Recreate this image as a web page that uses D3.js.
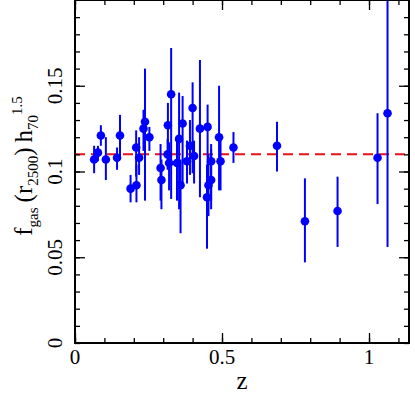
<!DOCTYPE html>
<html>
<head>
<meta charset="utf-8">
<script src="https://cdn.jsdelivr.net/npm/d3@7"></script>
<style>
body { margin: 0; background: #fff; }
text { font-family: "Liberation Serif", "DejaVu Serif", serif; fill: #000; }
</style>
</head>
<body>
<div id="chart"></div>
<script>
// cluster redshifts and gas fractions
var redshift = [0.065, 0.078, 0.088, 0.105, 0.143, 0.153, 0.189, 0.209, 0.208, 0.218,
	0.233, 0.238, 0.253, 0.291, 0.294, 0.315, 0.316, 0.320, 0.327, 0.347,
	0.354, 0.359, 0.366, 0.381, 0.391, 0.400, 0.405, 0.425, 0.451, 0.449,
	0.454, 0.463, 0.463, 0.490, 0.495, 0.539, 0.687, 0.782, 0.893, 1.029, 1.063];
var fgas = [0.107, 0.111, 0.121, 0.107, 0.108, 0.121, 0.090, 0.092, 0.114, 0.108,
	0.125, 0.129, 0.120, 0.102, 0.095, 0.110, 0.127, 0.105, 0.145, 0.105,
	0.119, 0.092, 0.128, 0.106, 0.115, 0.137, 0.109, 0.125, 0.126, 0.085,
	0.092, 0.095, 0.106, 0.120, 0.106, 0.114, 0.115, 0.071, 0.077, 0.108, 0.134];
var errUp = [0.008, 0.004, 0.006, 0.013, 0.006, 0.012, 0.008, 0.012, 0.010, 0.012,
	0.011, 0.031, 0.006, 0.014, 0.012, 0.009, 0.013, 0.012, 0.027, 0.013,
	0.027, 0.015, 0.016, 0.012, 0.015, 0.015, 0.009, 0.040, 0.013, 0.019,
	0.018, 0.018, 0.010, 0.030, 0.015, 0.009, 0.014, 0.025, 0.020, 0.026, 0.080];
var errDown = [0.008, 0.005, 0.006, 0.012, 0.007, 0.013, 0.008, 0.010, 0.017, 0.010,
	0.013, 0.046, 0.008, 0.019, 0.017, 0.009, 0.011, 0.016, 0.061, 0.022,
	0.041, 0.028, 0.036, 0.013, 0.017, 0.038, 0.016, 0.040, 0.037, 0.030,
	0.018, 0.017, 0.023, 0.031, 0.017, 0.009, 0.015, 0.024, 0.021, 0.027, 0.078];
var refLevel = 0.11;
var xTickLabels = [0, 0.5, 1];
var yTickLabels = [0, 0.05, 0.1, 0.15];

var width = 415, height = 395;
var plotLeft = 75, plotRight = 409, plotTop = 0, plotBottom = 343;

var svg = d3.select("#chart").append("svg")
	.attr("width", width)
	.attr("height", height);

var x = d3.scaleLinear().domain([0, 1.136]).range([plotLeft, plotRight]);
var y = d3.scaleLinear().domain([0, 0.2]).range([plotBottom, plotTop]);

svg.append("clipPath").attr("id", "plotclip")
	.append("rect")
	.attr("x", plotLeft).attr("y", plotTop)
	.attr("width", plotRight - plotLeft).attr("height", plotBottom - plotTop);

var points = redshift.map(function (z, i) {
	return { z: z, f: fgas[i], up: errUp[i], dn: errDown[i] };
});

var plot = svg.append("g").attr("clip-path", "url(#plotclip)");

// reference level
plot.append("line")
	.attr("x1", x(0)).attr("x2", x(1.136))
	.attr("y1", y(refLevel)).attr("y2", y(refLevel))
	.attr("stroke", "#e8101a")
	.attr("stroke-width", 2)
	.attr("stroke-dasharray", "10,6");

plot.selectAll(".errbar")
	.data(points)
	.enter()
	.append("line")
	.attr("class", "errbar")
	.attr("x1", function (d) { return x(d.z); })
	.attr("x2", function (d) { return x(d.z); })
	.attr("y1", function (d) { return y(d.f + d.up); })
	.attr("y2", function (d) { return y(d.f - d.dn); })
	.attr("stroke", "#0000ff")
	.attr("stroke-width", 2);

plot.selectAll(".pt")
	.data(points)
	.enter()
	.append("circle")
	.attr("class", "pt")
	.attr("cx", function (d) { return x(d.z); })
	.attr("cy", function (d) { return y(d.f); })
	.attr("r", 4.3)
	.attr("fill", "#0000ff");

// ticks, pointing inward on all four sides
function tickAxis(axis, pos, values, size) {
	svg.append("g")
		.attr("transform", pos)
		.call(axis.tickValues(values).tickSize(size).tickFormat(""))
		.call(function (g) {
			g.select(".domain").remove();
			g.selectAll(".tick line").attr("stroke", "#000").attr("stroke-width", 1.3);
		});
}
var xMinor = d3.range(0, 1.14, 0.1), xMajor = [0, 0.5, 1];
var yMinor = d3.range(0, 0.2, 0.01), yMajor = [0.05, 0.1, 0.15];
tickAxis(d3.axisBottom(x), "translate(0," + plotBottom + ")", xMinor, -5);
tickAxis(d3.axisBottom(x), "translate(0," + plotBottom + ")", xMajor, -10);
tickAxis(d3.axisTop(x), "translate(0," + plotTop + ")", xMinor, -5);
tickAxis(d3.axisTop(x), "translate(0," + plotTop + ")", xMajor, -10);
tickAxis(d3.axisLeft(y), "translate(" + plotLeft + ",0)", yMinor, -5);
tickAxis(d3.axisLeft(y), "translate(" + plotLeft + ",0)", yMajor, -10);
tickAxis(d3.axisRight(y), "translate(" + plotRight + ",0)", yMinor, -5);
tickAxis(d3.axisRight(y), "translate(" + plotRight + ",0)", yMajor, -10);

// frame
svg.append("rect")
	.attr("x", plotLeft).attr("y", plotTop)
	.attr("width", plotRight - plotLeft).attr("height", plotBottom - plotTop)
	.attr("fill", "none")
	.attr("stroke", "#000")
	.attr("stroke-width", 2);

svg.selectAll(".xlab")
	.data(xTickLabels)
	.enter()
	.append("text")
	.attr("class", "xlab")
	.attr("x", function (d) { return x(d); })
	.attr("y", 364)
	.attr("text-anchor", "middle")
	.style("font-size", "21px")
	.text(function (d) { return d; });

svg.selectAll(".ylab")
	.data(yTickLabels)
	.enter()
	.append("text")
	.attr("class", "ylab")
	.attr("transform", function (d) { return "translate(62," + y(d) + ") rotate(-90)"; })
	.attr("text-anchor", "middle")
	.style("font-size", "21px")
	.text(function (d) { return d; });

svg.append("text")
	.attr("x", (plotLeft + plotRight) / 2)
	.attr("y", 389)
	.attr("text-anchor", "middle")
	.style("font-size", "25px")
	.text("z");

var ytitle = svg.append("text")
	.attr("transform", "translate(32,166) rotate(-90)")
	.attr("text-anchor", "middle")
	.style("font-size", "25px");
ytitle.append("tspan").text("f");
ytitle.append("tspan").attr("dy", 6).style("font-size", "15px").text("gas");
ytitle.append("tspan").attr("dy", -6).text("\u2009(r");
ytitle.append("tspan").attr("dy", 6).style("font-size", "15px").text("2500");
ytitle.append("tspan").attr("dy", -6).text(")\u2009h");
ytitle.append("tspan").attr("dy", 6).style("font-size", "15px").text("70");
ytitle.append("tspan").attr("dy", -16).style("font-size", "15px").text("1.5");
</script>
</body>
</html>
